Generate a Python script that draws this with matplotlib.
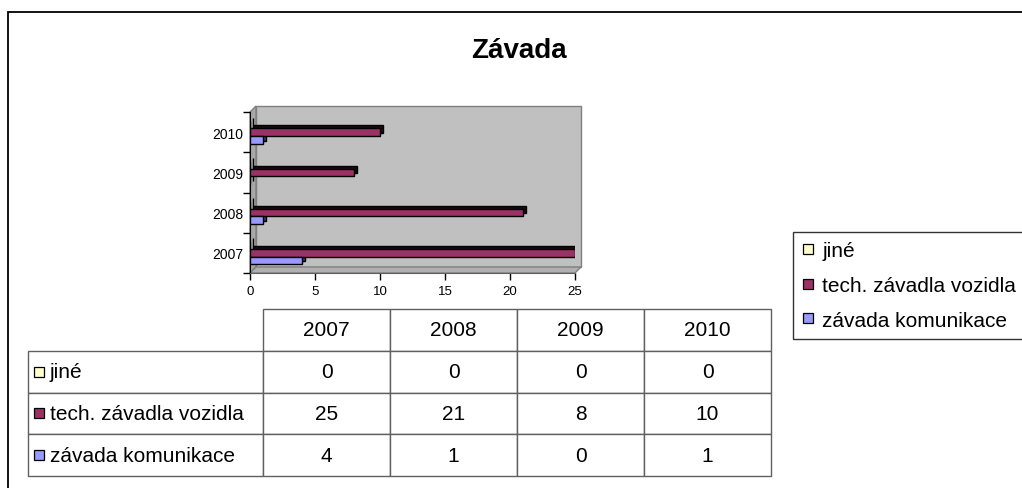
import numpy as np
import matplotlib
matplotlib.use('Agg')
import matplotlib.pyplot as plt
import matplotlib.transforms as mtransforms
from matplotlib.lines import Line2D
from matplotlib.patches import Rectangle, Polygon

plt.rcParams['font.family'] = ['Liberation Sans', 'DejaVu Sans']

# ---- data ----
years = ['2007', '2008', '2009', '2010']
series = ['jiné', 'tech. závadla vozidla', 'závada komunikace']
jine = [0, 0, 0, 0]
tech = [25, 21, 8, 10]
komunikace = [4, 1, 0, 1]
colors = ['#ffffcc', '#993366', '#9999ff']
shades = ['#202020', '#1a0a12', '#3a3a60']

W, H = 1022, 489
fig = plt.figure(figsize=(W / 100, H / 100), dpi=100)


def fx(px):
    return px / W


def fy(py):
    return 1 - py / H


# outer frame of the chart object (runs off the right / bottom)
fig.patches.append(Rectangle((fx(8), -0.1), 1.2, fy(13) + 0.1,
                             transform=fig.transFigure, fill=False,
                             edgecolor='black', lw=1.3, zorder=5))

fig.text(fx(519), fy(51), 'Závada', ha='center', va='center',
         fontsize=20, fontweight='bold')

# ---- bar chart ----
ax = fig.add_axes([fx(250), fy(274), fx(575) - fx(250), fy(113) - fy(274)])
ax.set_xlim(0, 25)
ax.set_ylim(-0.5, 3.5)
ax.patch.set_visible(False)

# 3d walls (back, left side, floor)
d = 6
x0, y0 = ax.transData.transform((0, -0.5))
x1, y1 = ax.transData.transform((25, 3.5))
ident = mtransforms.IdentityTransform()
walls = [
    [(x0 + d, y0 + d), (x1 + d, y0 + d), (x1 + d, y1 + d), (x0 + d, y1 + d)],
    [(x0, y0), (x0 + d, y0 + d), (x0 + d, y1 + d), (x0, y1)],
    [(x0, y0), (x1, y0), (x1 + d, y0 + d), (x0 + d, y0 + d)],
]
for verts, fc in zip(walls, ['#c0c0c0', '#a8a8a8', '#b0b0b0']):
    fig.patches.append(Polygon(verts, closed=True, transform=ident,
                               facecolor=fc, edgecolor='#808080', lw=1,
                               zorder=-1))

h = 0.19
pos = np.arange(len(years))
shift = mtransforms.ScaledTranslation(3 / 100, 3 / 100, fig.dpi_scale_trans)
for vals, c, sc, dy in zip([jine, tech, komunikace], colors, shades, [h, 0, -h]):
    ax.barh(pos + dy, vals, height=h, color=sc, edgecolor='black', lw=1,
            transform=ax.transData + shift, zorder=2)
    ax.barh(pos + dy, vals, height=h, color=c, edgecolor='black', lw=1,
            zorder=3)

ax.set_yticks(np.arange(-0.5, 4, 1))
ax.set_yticklabels([])
ax.set_yticks(pos, minor=True)
ax.set_yticklabels(years, minor=True)
ax.tick_params(axis='y', which='minor', length=0, pad=5)
ax.set_xticks(range(0, 26, 5))
ax.tick_params(which='major', direction='out', length=5, width=1, color='black')
ax.tick_params(labelsize=9.5)
for s in ['top', 'right']:
    ax.spines[s].set_visible(False)
ax.spines['left'].set_color('black')
ax.spines['bottom'].set_color('#606060')

# ---- data table ----
tax = fig.add_axes([fx(28), fy(477), fx(771) - fx(28), fy(310) - fy(477)])
tax.axis('off')
cell_text = [[name] + [str(v) for v in vals]
             for name, vals in zip(series, [jine, tech, komunikace])]
widths = np.array([235, 127, 127, 127, 127], dtype=float)
tbl = tax.table(cellText=cell_text, colLabels=[''] + years,
                colWidths=list(widths / widths.sum()), cellLoc='center',
                bbox=[0, 0, 1, 1])
tbl.auto_set_font_size(False)
tbl.set_fontsize(15)
for (r, c), cell in tbl.get_celld().items():
    cell.set_edgecolor('#606060')
    cell.set_linewidth(1)
    if c == 0 and r > 0:
        cell._loc = 'left'
        cell.get_text().set_horizontalalignment('left')
        cell.PAD = 22 / 235
tbl[0, 0].visible_edges = 'open'

for i, c in enumerate(colors):
    tax.plot(11 / 743, 1 - (i + 1.5) / 4, marker='s', ms=7, mfc=c,
             mec='black', mew=0.9, transform=tax.transAxes, clip_on=False)

# ---- legend ----
handles = [Line2D([], [], ls='none', marker='s', ms=7, mfc=c, mec='black',
                  mew=0.9) for c in colors]
leg = fig.legend(handles, series, loc='upper left',
                 bbox_to_anchor=(fx(793), fy(233)), frameon=True,
                 fancybox=False, edgecolor='black', borderaxespad=0,
                 handlelength=0.5, handletextpad=0.45, labelspacing=0.75,
                 borderpad=0.45, fontsize=15)
leg.get_frame().set_linewidth(1)

fig.savefig('out.png', dpi=100)
